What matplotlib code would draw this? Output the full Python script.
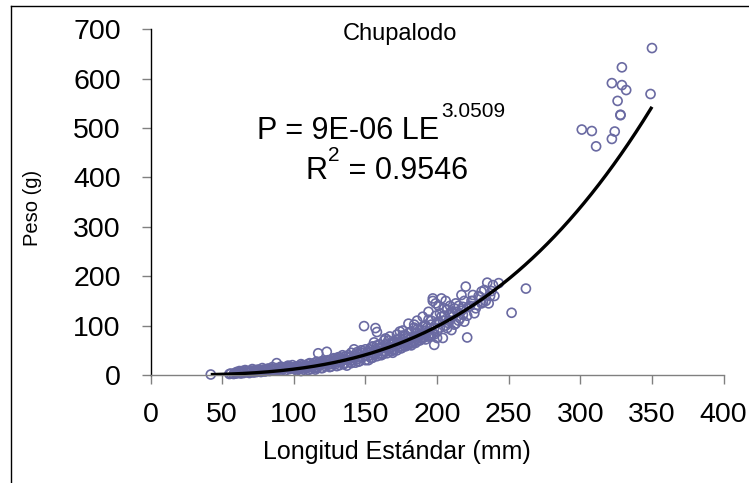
import numpy as np
import matplotlib
matplotlib.use("Agg")
import matplotlib.pyplot as plt
from matplotlib.lines import Line2D

# ---------------- data ----------------
title = "Chupalodo"
x_label = "Longitud Estándar (mm)"
y_label = "Peso (g)"
x_ticks = [0, 50, 100, 150, 200, 250, 300, 350, 400]
y_ticks = [0, 100, 200, 300, 400, 500, 600, 700]

# fitted power curve P = a * LE^b (a shown rounded as 9E-06)
a_coef = 9.4e-06
b_exp = 3.0509
a_label = "9E-06"
exp_label = "3.0509"
r2_label = "0.9546"

len_small = [42, 55, 56, 58, 59, 60, 62, 63, 64, 65,
             66, 68, 69, 70, 71, 72, 73, 74, 75, 76,
             77, 78, 79, 80, 81, 82, 83, 84, 85, 86,
             87, 88, 89, 90, 91, 92, 93, 94, 95, 96,
             97, 98, 99, 100,
             60, 64, 67, 70, 73, 76, 79, 82, 85, 88,
             91, 94, 97, 62, 69, 74, 80, 86, 92, 98]
wt_small = [1, 2, 3, 2, 4, 3, 5, 3, 8, 4,
            10, 5, 4, 6, 12, 5, 7, 6, 11, 7,
            6, 14, 8, 7, 9, 13, 8, 10, 16, 9,
            11, 24, 10, 12, 17, 11, 13, 9, 15, 19,
            12, 14, 20, 13,
            6, 6, 8, 9, 10, 10, 11, 12, 13, 14,
            15, 16, 17, 8, 7, 8, 10, 11, 14, 16]

len_mid1 = [101, 102, 103, 104, 105, 106, 107, 108, 109, 110,
            111, 112, 113, 114, 115, 116, 117, 118, 119, 120,
            121, 122, 123, 124, 125, 126, 127, 128, 129, 130,
            131, 132, 133, 134, 135, 136, 137, 138, 139, 140,
            141, 142, 143, 144, 145, 146, 147, 148, 149, 150,
            105, 110, 115, 120, 125, 130, 135, 140, 145, 150,
            108, 118, 128, 138, 148, 112, 122, 132, 142,
            100, 102, 104, 106, 108, 110, 112, 114, 116, 118,
            120, 122, 124, 126, 128, 130, 132, 134, 136, 138,
            140, 142, 144, 146, 148, 150]
wt_mid1 = [14, 9, 18, 13, 22, 15, 11, 19, 14, 17,
           24, 12, 18, 21, 16, 27, 44, 19, 14, 23,
           26, 18, 47, 21, 30, 17, 25, 33, 22, 27,
           36, 20, 28, 40, 24, 31, 19, 35, 27, 45,
           30, 38, 25, 42, 33, 28, 50, 36, 99, 40,
           8, 10, 11, 14, 16, 18, 22, 24, 27, 30,
           20, 26, 34, 40, 48, 16, 28, 36, 52,
           16, 12, 17, 20, 15, 22, 19, 24, 14, 22,
           28, 24, 30, 22, 29, 34, 26, 32, 38, 30,
           38, 34, 46, 36, 44, 52]

len_mid2 = [151, 152, 153, 154, 155, 156, 157, 158, 159, 160,
            161, 162, 163, 164, 165, 166, 167, 168, 169, 170,
            171, 172, 173, 174, 175, 176, 177, 178, 179, 180,
            181, 182, 183, 184, 185, 186, 187, 188, 189, 190,
            191, 192, 193, 194, 195, 196, 197, 198, 199, 200,
            152, 155, 158, 162, 165, 168, 172, 175, 178, 182,
            185, 188, 192, 195, 198, 200, 156, 164, 174, 184,
            194, 176, 186, 196, 170, 180, 190,
            152, 154, 156, 158, 160, 162, 164, 166, 168, 170,
            172, 174, 176, 178, 180, 182, 184, 186, 188, 190,
            192, 194, 196, 198, 200, 153, 157, 161, 165, 169,
            173, 177, 181, 185, 189, 193, 197, 199]
wt_mid2 = [45, 38, 52, 34, 58, 44, 95, 87, 48, 62,
           40, 55, 70, 47, 60, 52, 78, 64, 45, 68,
           58, 82, 62, 74, 55, 90, 66, 80, 60, 104,
           72, 88, 64, 96, 78, 110, 70, 92, 84, 118,
           76, 100, 86, 112, 94, 80, 150, 61, 145, 105,
           30, 35, 38, 42, 44, 48, 50, 54, 58, 60,
           65, 70, 72, 78, 82, 75, 66, 74, 88, 102,
           128, 70, 85, 110, 50, 62, 75,
           48, 56, 42, 60, 55, 48, 62, 70, 56, 66,
           72, 58, 80, 68, 85, 76, 68, 92, 80, 98,
           90, 78, 102, 95, 88, 40, 52, 44, 54, 52,
           66, 60, 64, 84, 74, 96, 84, 120]

len_large = [201, 202, 203, 204, 205, 206, 207, 208, 209, 210,
             211, 212, 213, 214, 215, 216, 217, 218, 219, 220,
             221, 222, 224, 225, 226, 228, 230, 231, 232, 234,
             235, 236, 238, 240, 243, 252, 262, 197, 204, 210,
             201, 203, 205, 207, 209, 211, 213, 215, 217, 219,
             221, 223, 225, 227, 229, 231, 233, 237, 239, 206,
             212, 218, 202, 208]
wt_large = [140, 96, 155, 75, 120, 100, 132, 110, 125, 91,
            118, 135, 104, 128, 140, 115, 162, 122, 108, 179,
            76, 138, 150, 162, 125, 142, 158, 169, 148, 150,
            187, 145, 170, 160, 186, 126, 175, 155, 110, 128,
            108, 118, 135, 95, 140, 125, 145, 110, 130, 150,
            120, 140, 150, 135, 160, 145, 172, 160, 182, 150,
            102, 138, 125, 105]

len_big = [301, 308, 311, 322, 322, 324, 326, 328, 328, 329, 329, 332, 349, 350]
wt_big = [497, 494, 463, 478, 591, 493, 555, 526, 527, 623, 587, 577, 569, 662]

lengths = np.array(len_small + len_mid1 + len_mid2 + len_large + len_big, float)
weights = np.array(wt_small + wt_mid1 + wt_mid2 + wt_large + wt_big, float)

# ---------------- figure ----------------
W, H = 749, 483
fig = plt.figure(figsize=(W / 100, H / 100), dpi=100)
FONT = "Liberation Sans"
plt.rcParams["font.family"] = [FONT, "DejaVu Sans"]

def fx(px):
    return px / W

def fy(py):
    return 1 - py / H

left, right, top, bottom = 150.6, 723.6, 29.3, 375.0
ax = fig.add_axes([fx(left), fy(bottom), fx(right) - fx(left), fy(top) - fy(bottom)])

marker_col = "#6A6AA2"
ax.scatter(lengths, weights, s=42, facecolors="none", edgecolors=marker_col,
           linewidths=1.2, zorder=2, clip_on=False)

xf = np.linspace(lengths.min(), lengths.max(), 300)
ax.plot(xf, a_coef * xf ** b_exp, color="black", lw=2.4, zorder=3,
        solid_capstyle="butt")

ax.set_xlim(x_ticks[0], x_ticks[-1])
ax.set_ylim(y_ticks[0], y_ticks[-1])
ax.set_xticks(x_ticks)
ax.set_yticks(y_ticks)
ax.set_xticklabels([str(v) for v in x_ticks])
ax.set_yticklabels([str(v) for v in y_ticks])
for s in ["top", "right"]:
    ax.spines[s].set_visible(False)
ax.spines["left"].set_color("black")
ax.spines["bottom"].set_color("#808080")
ax.spines["left"].set_linewidth(1.0)
ax.spines["bottom"].set_linewidth(1.0)
ax.tick_params(axis="x", direction="out", length=6.5, width=1, color="#808080",
               pad=13, labelsize=20.5, labelcolor="black")
ax.tick_params(axis="y", direction="out", length=6.5, width=1, color="#808080",
               pad=15, labelsize=20.5, labelcolor="black")
ax.patch.set_alpha(0)

# texts
fig.text(fx(400), fy(40), title, ha="center", va="baseline", fontsize=17)
fig.text(fx(397), fy(452), x_label, ha="center", va="center", fontsize=18)
fig.text(fx(33), fy(208), y_label, ha="center", va="center", rotation=90, fontsize=14.5)

renderer = fig.canvas.get_renderer()

def right_px(t):
    bb = t.get_window_extent(renderer=renderer)
    return bb.x1

main_size, sup_size = 22, 15
t1 = fig.text(fx(257), fy(139), "P = " + a_label + " LE", ha="left", va="baseline",
              fontsize=main_size)
x_end = right_px(t1)
fig.text((x_end + 2) / W, fy(117), exp_label, ha="left", va="baseline", fontsize=sup_size)

t2 = fig.text(fx(305), fy(179), "R", ha="left", va="baseline", fontsize=main_size)
x_end = right_px(t2)
t3 = fig.text((x_end + 1) / W, fy(161), "2", ha="left", va="baseline", fontsize=sup_size)
x_end = right_px(t3)
fig.text((x_end + 1) / W, fy(179), " = " + r2_label, ha="left", va="baseline",
         fontsize=main_size)

# chart-area border (only left and top visible in crop)
fig.add_artist(Line2D([fx(11), fx(11)], [fy(6), fy(H + 2)], color="black", lw=1.0))
fig.add_artist(Line2D([fx(11), fx(W + 2)], [fy(6), fy(6)], color="black", lw=1.0))

fig.savefig("out.png", dpi=100)
